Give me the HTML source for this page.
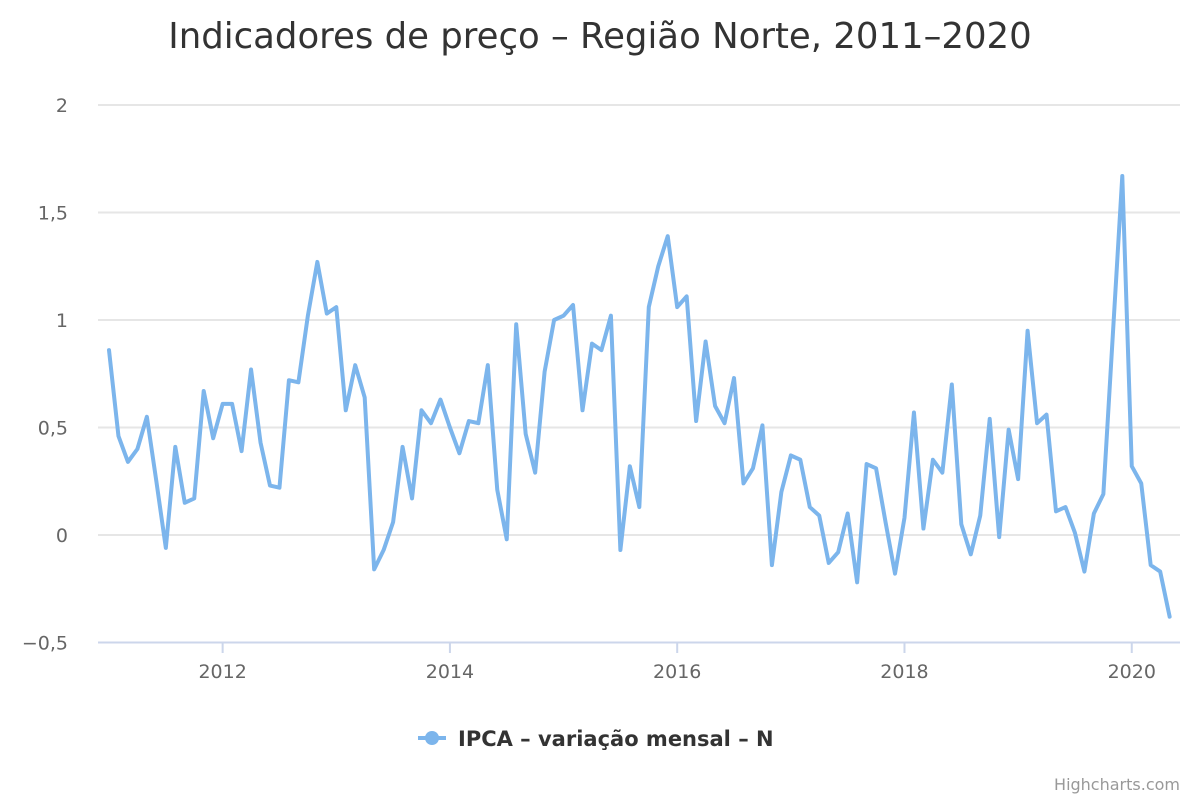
<!DOCTYPE html>
<html><head><meta charset="utf-8"><style>
body{margin:0;background:#fff;font-family:"Liberation Sans","DejaVu Sans",sans-serif}
</style></head><body>
<svg width="1200" height="800" xmlns="http://www.w3.org/2000/svg" id="c">
<rect width="1200" height="800" fill="#fff"/>
<text x="600" y="48" text-anchor="middle" font-family="DejaVu Sans, sans-serif" font-size="35.5" fill="#333">Indicadores de preço – Região Norte, 2011–2020</text>
<g id="grid"></g><g id="xax"></g>
<polyline id="line" fill="none" stroke="#7cb5ec" stroke-width="4" stroke-linejoin="round" stroke-linecap="round"/>
<g>
<line x1="418" y1="738" x2="446" y2="738" stroke="#7cb5ec" stroke-width="4"/>
<circle cx="432" cy="738" r="7" fill="#7cb5ec"/>
<text x="458" y="746" font-family="DejaVu Sans, sans-serif" font-size="21" font-weight="bold" fill="#333">IPCA – variação mensal – N</text>
</g>
<text x="1180" y="790" text-anchor="end" font-family="DejaVu Sans, sans-serif" font-size="16" fill="#999">Highcharts.com</text>
</svg>
<script>
const yTicks=[2,1.5,1,0.5,0,-0.5];
const yLabels=["2","1,5","1","0,5","0","−0,5"];
const xYears=[2012,2014,2016,2018,2020];
const startYear=2011;
const values=[0.86,0.46,0.34,0.40,0.55,0.25,-0.06,0.41,0.15,0.17,0.67,0.45,
0.61,0.61,0.39,0.77,0.43,0.23,0.22,0.72,0.71,1.02,1.27,1.03,
1.06,0.58,0.79,0.64,-0.16,-0.07,0.06,0.41,0.17,0.58,0.52,0.63,
0.50,0.38,0.53,0.52,0.79,0.21,-0.02,0.98,0.47,0.29,0.76,1.00,
1.02,1.07,0.58,0.89,0.86,1.02,-0.07,0.32,0.13,1.06,1.25,1.39,
1.06,1.11,0.53,0.90,0.60,0.52,0.73,0.24,0.31,0.51,-0.14,0.20,
0.37,0.35,0.13,0.09,-0.13,-0.08,0.10,-0.22,0.33,0.31,0.06,-0.18,
0.08,0.57,0.03,0.35,0.29,0.70,0.05,-0.09,0.09,0.54,-0.01,0.49,
0.26,0.95,0.52,0.56,0.11,0.13,0.01,-0.17,0.10,0.19,0.93,1.67,
0.32,0.24,-0.14,-0.17,-0.38];
const NS="http://www.w3.org/2000/svg";
const y=v=>535-v*215;
const x=i=>109+i*9.47;
const g=document.getElementById('grid');
yTicks.forEach((t,k)=>{
 const l=document.createElementNS(NS,'line');
 
 
 l.setAttribute('x1',98);l.setAttribute('x2',1180);l.setAttribute('y1',y(t));l.setAttribute('y2',y(t));
 l.setAttribute('stroke',t===-0.5?'#ccd6eb':'#e6e6e6');l.setAttribute('stroke-width',2);
 g.appendChild(l);
 const tx=document.createElementNS(NS,'text');
 
 
 tx.setAttribute('x',68);tx.setAttribute('y',y(t)+7);tx.setAttribute('text-anchor','end');
 tx.setAttribute('font-family','DejaVu Sans, sans-serif');tx.setAttribute('font-size','19');tx.setAttribute('fill','#666');
 tx.textContent=yLabels[k];g.appendChild(tx);
});
const xa=document.getElementById('xax');
xYears.forEach(yr=>{
 const px=x((yr-startYear)*12);
 const l=document.createElementNS(NS,'line');
 
 
 l.setAttribute('x1',px);l.setAttribute('x2',px);l.setAttribute('y1',643);l.setAttribute('y2',653);
 l.setAttribute('stroke','#ccd6eb');l.setAttribute('stroke-width',2);xa.appendChild(l);
 const tx=document.createElementNS(NS,'text');
 
 
 tx.setAttribute('x',px);tx.setAttribute('y',678);tx.setAttribute('text-anchor','middle');
 tx.setAttribute('font-family','DejaVu Sans, sans-serif');tx.setAttribute('font-size','19');tx.setAttribute('fill','#666');
 tx.textContent=yr;xa.appendChild(tx);
});
document.getElementById('line').setAttribute('points',values.map((v,i)=>x(i)+','+y(v)).join(' '));
</script>
</body></html>
